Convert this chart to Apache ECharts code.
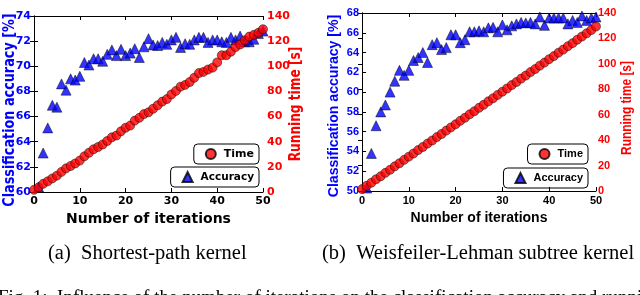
<!DOCTYPE html>
<html><head><meta charset="utf-8">
<script src="https://cdn.jsdelivr.net/npm/echarts@6/dist/echarts.min.js"></script>
<style>html,body{margin:0;padding:0;background:#fff}#c{width:640px;height:295px}</style>
</head><body><div id="c"></div>
<script>
// ---- data ----
const iterAcc = [1,2,3,4,5,6,7,8,9,10,11,12,13,14,15,16,17,18,19,20,21,22,23,24,25,26,27,28,29,30,31,32,33,34,35,36,37,38,39,40,41,42,43,44,45,46,47,48,49,50];
const iterTime = [0,1,2,3,4,5,6,7,8,9,10,11,12,13,14,15,16,17,18,19,20,21,22,23,24,25,26,27,28,29,30,31,32,33,34,35,36,37,38,39,40,41,42,43,44,45,46,47,48,49,50];
const spAccuracy = [60.4,63.1,65.1,66.9,66.75,68.6,68.1,69.0,68.9,69.2,70.3,70.1,70.6,70.6,70.4,70.95,71.3,70.85,71.35,70.85,71.05,71.4,70.7,71.55,72.2,71.7,71.65,71.9,71.75,72.1,72.3,71.5,71.8,71.75,72.1,72.3,72.3,71.9,72.1,72.1,71.95,71.9,72.3,72.1,72.4,71.95,71.95,72.15,72.6,72.8];
const spTime = [1.7,3.7,6.5,8.5,10.8,13.0,16.0,18.8,20.7,22.7,25.0,28.4,31.2,34.0,35.8,37.8,40.6,43.5,44.9,48.3,51.1,52.8,56.8,59.0,62.0,63.4,66.2,69.0,71.9,73.9,77.6,80.4,83.8,85.2,87.5,90.9,94.6,95.5,97.4,98.9,103.1,108.8,108.8,111.6,115.3,117.3,120.7,123.6,125.0,126.7,129.5];
const wlAccuracy = [50.3,53.8,56.6,58.0,58.7,60.0,61.1,62.2,61.7,62.2,63.2,63.5,64.0,63.0,64.8,65.0,64.3,64.5,65.8,65.8,65.0,65.3,66.1,66.1,66.2,66.1,66.5,66.55,66.1,66.8,66.3,66.7,66.9,67.05,67.0,67.05,66.9,67.6,66.75,67.5,67.5,67.5,67.5,66.9,67.25,67.05,67.7,67.25,67.5,67.6];
const wlTime = [1.5,4.1,6.5,9.2,11.6,14.3,16.7,19.4,21.8,24.5,27.0,29.5,32.2,34.6,37.3,39.7,42.4,44.8,47.5,50.0,52.5,55.2,57.6,60.3,62.7,65.4,67.8,70.5,72.9,75.6,78.1,80.6,83.3,85.7,88.4,90.8,93.5,95.9,98.6,101.0,103.7,106.1,108.8,111.2,113.9,116.3,119.0,121.5,124.0,126.6,129.4];
const xTicks = {min:0, max:50, interval:10};
const spAccTicks = {min:60, max:74, interval:2};
const wlAccTicks = {min:50, max:68, interval:2};
const timeTicks = {min:0, max:140, interval:20};
const captions = ['(a)  Shortest-path kernel', '(b)  Weisfeiler-Lehman subtree kernel'];
const figLine = 'Fig. 1:  Influence of the number of iterations on the classification accuracy and running time';
const xName = 'Number of iterations';
const accName = 'Classification accuracy [%]';
const timeName = 'Running time [s]';

const BLUE = '#0000ff', RED = '#ff0000';
const F1 = 'DejaVu Sans', F2 = 'Liberation Sans';

function xAxes(gi, font, nameSize){
  return [
    {gridIndex:gi, type:'value', ...xTicks, position:'bottom',
     axisLine:{lineStyle:{color:'#000',width:1}}, axisTick:{inside:true,length:4,lineStyle:{color:'#000'}},
     splitLine:{show:false}, axisLabel:{color:'#000',fontFamily:font,fontWeight:'bold',fontSize:11,margin:4},
     name:xName, nameLocation:'middle', nameGap:20,
     nameTextStyle:{color:'#000',fontFamily:font,fontWeight:'bold',fontSize:nameSize}},
    {gridIndex:gi, type:'value', ...xTicks, position:'top',
     axisLine:{lineStyle:{color:'#000',width:1}}, axisTick:{inside:true,length:4,lineStyle:{color:'#000'}},
     splitLine:{show:false}, axisLabel:{show:false}}
  ];
}
function yAxes(gi, accTicks, font, rMargin){
  return [
    {gridIndex:gi, type:'value', ...accTicks, position:'left',
     axisLine:{show:true,lineStyle:{color:'#000',width:1}}, axisTick:{show:true,inside:true,length:4,lineStyle:{color:'#000'}},
     splitLine:{show:false}, axisLabel:{color:BLUE,fontFamily:font,fontWeight:'bold',fontSize:11,margin:3}},
    {gridIndex:gi, type:'value', ...timeTicks, position:'right',
     axisLine:{show:true,lineStyle:{color:'#000',width:1}}, axisTick:{show:true,inside:true,length:4,lineStyle:{color:'#000'}},
     splitLine:{show:false}, axisLabel:{color:RED,fontFamily:font,fontWeight:'bold',fontSize:11,margin:rMargin}}
  ];
}
function pairs(xs, ys){ return ys.map((v,i)=>[xs[i], v]); }

function legend(name, icon, right, top, font, fs){
  return {data:[{name:name, icon:icon}], right:right, top:top, orient:'horizontal',
    borderColor:'#000', borderWidth:1, borderRadius:4, padding:[4,5,4,11],
    itemWidth:10, itemHeight:10, itemGap:0, selectedMode:false,
    textStyle:{color:'#000',fontFamily:font,fontWeight:'bold',fontSize:fs, padding:[0,0,0,3]}};
}
// vertical axis title as rotated, slightly compressed text (reference is squeezed vertically)
function vTitle(text, x, y, font, size, color, sx){
  return {type:'text', x:x, y:y, rotation:Math.PI/2, scaleX:sx, scaleY:1,
    style:{text:text, font:'bold '+size+'px "'+font+'"', fill:color, align:'center', verticalAlign:'middle'}};
}

const chart = echarts.init(document.getElementById('c'), null, {renderer:'canvas'});
chart.setOption({
  animation:false,
  backgroundColor:'#fff',
  grid:[
    {left:34, top:16, width:229, height:176},
    {left:362, top:13, width:234, height:178}
  ],
  xAxis:[...xAxes(0,F1,14), ...xAxes(1,F2,14)],
  yAxis:[...yAxes(0,spAccTicks,F1,4), ...yAxes(1,wlAccTicks,F2,2)],
  legend:[
    legend('Time','circle',381,144,F1,11),
    legend('Accuracy','triangle',381,167,F1,10.5),
    legend('Time','circle',52,144,F2,11),
    legend('Accuracy','triangle',52,168,F2,11)
  ],
  series:[
    {name:'Accuracy', type:'scatter', xAxisIndex:0, yAxisIndex:0, data:pairs(iterAcc, spAccuracy),
     symbol:'triangle', symbolSize:10, z:2, itemStyle:{color:BLUE,borderColor:'#000',borderWidth:0.6}},
    {name:'Time', type:'scatter', xAxisIndex:0, yAxisIndex:1, data:pairs(iterTime, spTime),
     symbol:'circle', symbolSize:9, z:3, itemStyle:{color:RED,borderColor:'#000',borderWidth:0.6}},
    {name:'Accuracy', type:'scatter', xAxisIndex:2, yAxisIndex:2, data:pairs(iterAcc, wlAccuracy),
     symbol:'triangle', symbolSize:10, z:2, itemStyle:{color:BLUE,borderColor:'#000',borderWidth:0.6}},
    {name:'Time', type:'scatter', xAxisIndex:2, yAxisIndex:3, data:pairs(iterTime, wlTime),
     symbol:'circle', symbolSize:9, z:3, itemStyle:{color:RED,borderColor:'#000',borderWidth:0.6}}
  ],
  graphic:[
    vTitle(accName, 10, 110, F1, 16, BLUE, 0.8),
    vTitle(timeName, 296, 104, F1, 16, RED, 0.76),
    vTitle(accName, 334, 106, F2, 15, BLUE, 0.94),
    vTitle(timeName, 627, 108, F2, 14, RED, 0.85),
    {type:'text', left:48, top:243, style:{text:captions[0], font:'20.5px "Liberation Serif"', fill:'#000'}},
    {type:'text', left:322, top:243, style:{text:captions[1], font:'20.5px "Liberation Serif"', fill:'#000'}},
    {type:'text', left:-2, top:289, style:{text:figLine, font:'19px "Liberation Serif"', fill:'#000'}}
  ]
});
</script></body></html>
